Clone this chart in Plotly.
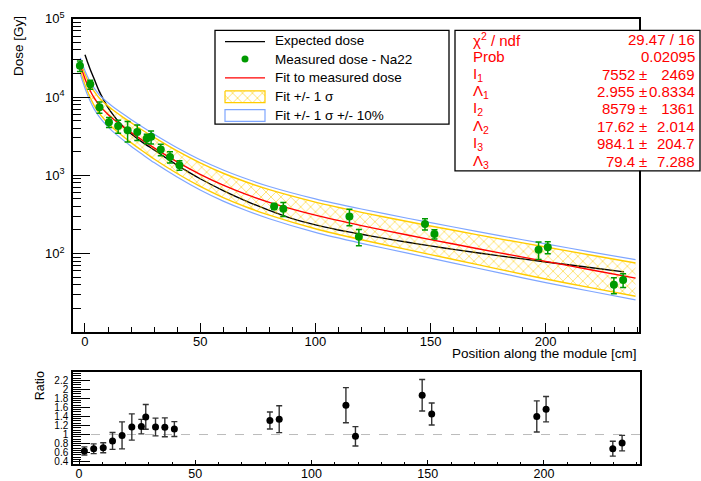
import plotly.graph_objects as go

W, H = 701, 481

# ---------------- data ----------------
# measured dose, Na22
meas_pos = [-2.2, 2.3, 6.3, 10.4, 14.4, 18.5, 22.7, 26.8, 28.7, 32.9, 36.9, 41.0,
            82.1, 86.1, 114.8, 118.9, 147.6, 151.7, 196.9, 200.9, 229.6, 233.6]
meas_dose = [25000, 14500, 7400, 4770, 4250, 3760, 3580, 2950, 3100, 2130, 1710, 1345,
             400, 373, 297, 164, 239, 177, 112, 120, 39.8, 45.9]
meas_err = [3800, 1900, 1200, 680, 800, 1100, 800, 400, 590, 355, 280, 185,
            35, 75, 70, 38, 40, 24, 28, 21, 9.2, 9.2]

# expected dose
exp_pos = [0, 1, 2, 3, 4, 6, 8, 10, 12, 15, 20, 25, 30, 35, 40, 45, 50, 60, 70, 80,
           90, 100, 110, 120, 130, 140, 150, 160, 180, 200, 220, 234]
exp_dose = [34670, 28510, 23710, 19950, 16980, 12160, 9330, 7330, 6030, 4680, 3390, 2630,
            2110, 1680, 1350, 1096, 902, 638, 468, 355, 279, 232, 200, 176, 156, 139,
            125, 113, 93.3, 78.0, 65.8, 58.2]

# fit to measured dose and its bands
fit_pos = [-2, -1, 0, 1, 2, 3, 4, 6, 8, 10, 12, 15, 20, 25, 30, 40, 50, 60, 70, 80,
           100, 120, 140, 160, 180, 200, 220, 239]
fit_dose = [25480, 20670, 17115, 14462, 12458, 10920, 9724, 8007, 6843, 5988, 5318, 4524,
            3531, 2796, 2238, 1481, 1027, 747, 569, 451, 309, 227, 172, 132, 102, 79.4,
            61.6, 48.5]
band_hi = [28790, 23560, 19680, 16850, 14700, 13050, 11770, 9850, 8620, 7665, 6860, 5926,
           4696, 3761, 3044, 2044, 1438, 1061, 819, 654, 454, 336, 256, 198, 154, 121,
           94.9, 75.7]
band_lo = [21660, 17470, 14380, 12000, 10220, 8845, 7779, 6326, 5338, 4611, 4042, 3416,
           2613, 2041, 1611, 1052, 719, 519, 393, 309, 207, 150, 112, 83.8, 62.7, 47.2,
           36.3, 28.4]
outer_hi = [31670, 25920, 21650, 18530, 16170, 14350, 12950, 10830, 9480, 8430, 7550, 6520,
            5170, 4140, 3350, 2250, 1580, 1167, 901, 719, 499, 370, 282, 218, 169, 133,
            104, 83.3]
outer_lo = [19490, 15720, 12940, 10800, 9200, 7960, 7000, 5690, 4800, 4150, 3640, 3070,
            2350, 1840, 1450, 947, 647, 467, 354, 278, 186, 135, 101, 75.4, 56.4, 42.5,
            32.7, 25.6]

# ratio measured / expected
ratio_pos = [2.3, 6.3, 10.4, 14.4, 18.5, 22.7, 26.8, 28.7, 32.9, 36.9, 41.0,
             82.1, 86.1, 114.8, 118.9, 147.6, 151.7, 196.9, 200.9, 229.6, 233.6]
ratio_val = [0.637, 0.686, 0.708, 0.858, 0.981, 1.167, 1.175, 1.39, 1.167, 1.16, 1.12,
             1.31, 1.34, 1.65, 0.96, 1.87, 1.455, 1.40, 1.56, 0.686, 0.81]
ratio_err = [0.09, 0.108, 0.111, 0.187, 0.298, 0.29, 0.161, 0.273, 0.197, 0.208, 0.165,
             0.187, 0.298, 0.388, 0.215, 0.348, 0.244, 0.344, 0.28, 0.165, 0.172]

dose_tickvals = [100, 1000, 10000, 100000]
dose_ticktext = ["10<sup>2</sup>", "10<sup>3</sup>", "10<sup>4</sup>", "10<sup>5</sup>"]

legend_labels = ["Expected dose", "Measured dose - Na22", "Fit to measured dose",
                 "Fit +/- 1 σ", "Fit +/- 1 σ +/- 10%"]

stats_labels = ["χ<sup>2</sup> / ndf", "Prob", "I<sub>1</sub>", "Λ<sub>1</sub>",
                "I<sub>2</sub>", "Λ<sub>2</sub>", "I<sub>3</sub>", "Λ<sub>3</sub>"]
stats_values = ["29.47 / 16", "0.02095", ("7552", " 2469"), ("2.955", "0.8334"),
                ("8579", " 1361"), ("17.62", "2.014"), ("984.1", "204.7"), ("79.4", "7.288")]

# ---------------- styles ----------------
FONT = "Liberation Sans, Arial, Helvetica, sans-serif"
GREEN = "#009a00"
YELLOW = "#ffcc00"
BLUE = "#7fa6ff"
RED = "#ff0000"


def px(x):
    return x / W


def py(y):
    return 1 - y / H


fig = go.Figure()

# expected dose (drawn first: hatch lies on top of it)
fig.add_trace(go.Scatter(x=exp_pos, y=exp_dose, mode="lines", line=dict(color="black", width=1.4, shape="spline", smoothing=0.6),
                         xaxis="x", yaxis="y", hoverinfo="skip"))
# hatched +/-1 sigma band
fig.add_trace(go.Scatter(x=fit_pos + fit_pos[::-1], y=band_hi + band_lo[::-1], mode="lines",
                         fill="toself", line=dict(width=0, color=YELLOW), fillcolor="rgba(0,0,0,0)",
                         fillpattern=dict(shape="x", fgcolor=YELLOW, bgcolor="rgba(0,0,0,0)",
                                          size=7, solidity=0.15, fillmode="replace"),
                         xaxis="x", yaxis="y", hoverinfo="skip"))
for arr in (band_hi, band_lo):
    fig.add_trace(go.Scatter(x=fit_pos, y=arr, mode="lines", line=dict(color=YELLOW, width=1.4, shape="spline", smoothing=0.6),
                             xaxis="x", yaxis="y", hoverinfo="skip"))
for arr in (outer_hi, outer_lo):
    fig.add_trace(go.Scatter(x=fit_pos, y=arr, mode="lines", line=dict(color=BLUE, width=1.2, shape="spline", smoothing=0.6),
                             xaxis="x", yaxis="y", hoverinfo="skip"))
# fit
fig.add_trace(go.Scatter(x=fit_pos, y=fit_dose, mode="lines", line=dict(color=RED, width=1.4, shape="spline", smoothing=0.6),
                         xaxis="x", yaxis="y", hoverinfo="skip"))
# measured points
fig.add_trace(go.Scatter(x=meas_pos, y=meas_dose, mode="markers",
                         marker=dict(color=GREEN, size=8),
                         error_y=dict(type="data", array=meas_err, color=GREEN, thickness=1.5, width=3),
                         xaxis="x", yaxis="y"))

# ratio panel
fig.add_trace(go.Scatter(x=ratio_pos, y=ratio_val, mode="markers",
                         marker=dict(color="black", size=7),
                         error_y=dict(type="data", array=ratio_err, color="#333333", thickness=1.4, width=3),
                         xaxis="x2", yaxis="y2"))

# ---------------- legend (drawn by hand) ----------------
LX0, LX1, LY0, LY1 = 215, 449, 22, 118
row_y = [32, 51.3, 70.6, 90, 109.3]
SX0, SX1 = 225, 265
TX = 273

fig.add_trace(go.Scatter(x=[(SX0 + SX1) / 2], y=[row_y[1]], mode="markers",
                         marker=dict(color=GREEN, size=7), xaxis="x3", yaxis="y3", hoverinfo="skip"))
fig.add_trace(go.Scatter(x=[SX0, SX1, SX1, SX0, SX0],
                         y=[row_y[3] - 6, row_y[3] - 6, row_y[3] + 6, row_y[3] + 6, row_y[3] - 6],
                         mode="lines", fill="toself", line=dict(color=YELLOW, width=1.2),
                         fillcolor="rgba(0,0,0,0)",
                         fillpattern=dict(shape="x", fgcolor=YELLOW, bgcolor="rgba(0,0,0,0)",
                                          size=7, solidity=0.15, fillmode="replace"),
                         xaxis="x3", yaxis="y3", hoverinfo="skip"))

shapes = []
shapes.append(dict(type="rect", xref="paper", yref="paper", x0=px(LX0), x1=px(LX1), y0=py(LY1), y1=py(LY0),
                   line=dict(color="black", width=1.3), fillcolor="rgba(0,0,0,0)", layer="above"))
shapes.append(dict(type="line", xref="paper", yref="paper", x0=px(SX0), x1=px(SX1), y0=py(row_y[0] + 1.5), y1=py(row_y[0] + 1.5),
                   line=dict(color="black", width=1.2), layer="above"))
shapes.append(dict(type="line", xref="paper", yref="paper", x0=px(SX0), x1=px(SX1), y0=py(row_y[2]), y1=py(row_y[2]),
                   line=dict(color=RED, width=1.2), layer="above"))
shapes.append(dict(type="rect", xref="paper", yref="paper", x0=px(SX0), x1=px(SX1), y0=py(row_y[4] + 6), y1=py(row_y[4] - 6),
                   line=dict(color=BLUE, width=1.2), fillcolor="rgba(0,0,0,0)", layer="above"))

# stats box
BX0, BX1, BY0, BY1 = 455, 700, 22, 166
shapes.append(dict(type="rect", xref="paper", yref="paper", x0=px(BX0), x1=px(BX1), y0=py(BY1), y1=py(BY0),
                   line=dict(color="black", width=1.3), fillcolor="white", layer="above"))

# dashed line at ratio = 1
shapes.append(dict(type="line", xref="x2 domain", yref="y2", x0=0, x1=1, y0=1, y1=1,
                   line=dict(color="#bbbbbb", width=1, dash="dash"), layer="below"))

annotations = []
for lab, yy in zip(legend_labels, row_y):
    annotations.append(dict(text=lab, x=px(TX), y=py(yy), xref="paper", yref="paper",
                            xanchor="left", yanchor="middle", showarrow=False,
                            font=dict(family=FONT, size=13.5, color="black")))

stat_row_y = [31 + 17.85 * i for i in range(8)]
for lab, val, yy in zip(stats_labels, stats_values, stat_row_y):
    sfont = dict(family=FONT, size=15, color=RED)
    annotations.append(dict(text=lab, x=px(471), y=py(yy), xref="paper", yref="paper",
                            xanchor="left", yanchor="middle", showarrow=False, font=sfont))
    if isinstance(val, tuple):
        annotations.append(dict(text=val[0], x=px(637), y=py(yy), xref="paper", yref="paper",
                                xanchor="right", yanchor="middle", showarrow=False, font=sfont))
        annotations.append(dict(text="±", x=px(643), y=py(yy), xref="paper", yref="paper",
                                xanchor="center", yanchor="middle", showarrow=False, font=sfont))
        annotations.append(dict(text=val[1], x=px(697), y=py(yy), xref="paper", yref="paper",
                                xanchor="right", yanchor="middle", showarrow=False, font=sfont))
    else:
        annotations.append(dict(text=val, x=px(697), y=py(yy), xref="paper", yref="paper",
                                xanchor="right", yanchor="middle", showarrow=False, font=sfont))

# axis titles
annotations.append(dict(text="Dose [Gy]", x=px(18), y=py(38), xref="paper", yref="paper", textangle=-90,
                        xanchor="center", yanchor="middle", showarrow=False,
                        font=dict(family=FONT, size=13.5, color="black")))
annotations.append(dict(text="Position along the module [cm]", x=px(639), y=py(353.5), xref="paper", yref="paper",
                        xanchor="right", yanchor="middle", showarrow=False,
                        font=dict(family=FONT, size=13.5, color="black")))
annotations.append(dict(text="Ratio", x=px(40), y=py(387), xref="paper", yref="paper", textangle=-90,
                        xanchor="center", yanchor="middle", showarrow=False,
                        font=dict(family=FONT, size=12.5, color="black")))

axis_common = dict(showline=True, linecolor="black", linewidth=1.5, mirror=True, showgrid=False,
                   zeroline=False, ticks="inside", tickcolor="black", tickwidth=1)

fig.update_layout(
    width=W, height=H, autosize=False, margin=dict(l=0, r=0, t=0, b=0, pad=0),
    paper_bgcolor="white", plot_bgcolor="rgba(0,0,0,0)", showlegend=False,
    font=dict(family=FONT, color="black"),
    xaxis=dict(domain=[px(73), px(639)], range=[-5.2, 240.5], anchor="y",
               tickmode="linear", tick0=0, dtick=50, ticklen=9,
               minor=dict(dtick=10, ticks="inside", ticklen=5, tickcolor="black", tickwidth=1),
               tickfont=dict(family=FONT, size=13), ticklabelstandoff=-3, **axis_common),
    yaxis=dict(domain=[py(331), py(10)], type="log", range=[1, 5], anchor="x",
               tickmode="array", tickvals=dose_tickvals, ticktext=dose_ticktext, ticklen=17,
               minor=dict(dtick="D1", ticks="inside", ticklen=8, tickcolor="black", tickwidth=1),
               tickfont=dict(family=FONT, size=13), ticklabelstandoff=4, **axis_common),
    xaxis2=dict(domain=[px(73), px(640)], range=[-2.6, 241.3], anchor="y2",
                tickmode="linear", tick0=0, dtick=50, ticklen=5,
                minor=dict(dtick=10, ticks="inside", ticklen=3, tickcolor="black", tickwidth=1),
                tickfont=dict(family=FONT, size=12.5), ticklabelstandoff=-3, **axis_common),
    yaxis2=dict(domain=[py(467), py(372)], range=[0.34, 2.39], anchor="x2",
                tickmode="linear", tick0=0.4, dtick=0.2, ticklen=17,
                minor=dict(dtick=0.05, ticks="inside", ticklen=8, tickcolor="black", tickwidth=1),
                tickfont=dict(family=FONT, size=10), ticklabelstandoff=1, **axis_common),
    xaxis3=dict(domain=[0, 1], range=[0, W], anchor="y3", visible=False, fixedrange=True),
    yaxis3=dict(domain=[0, 1], range=[H, 0], anchor="x3", visible=False, fixedrange=True),
    shapes=shapes, annotations=annotations,
)

fig.write_html("out.html")
